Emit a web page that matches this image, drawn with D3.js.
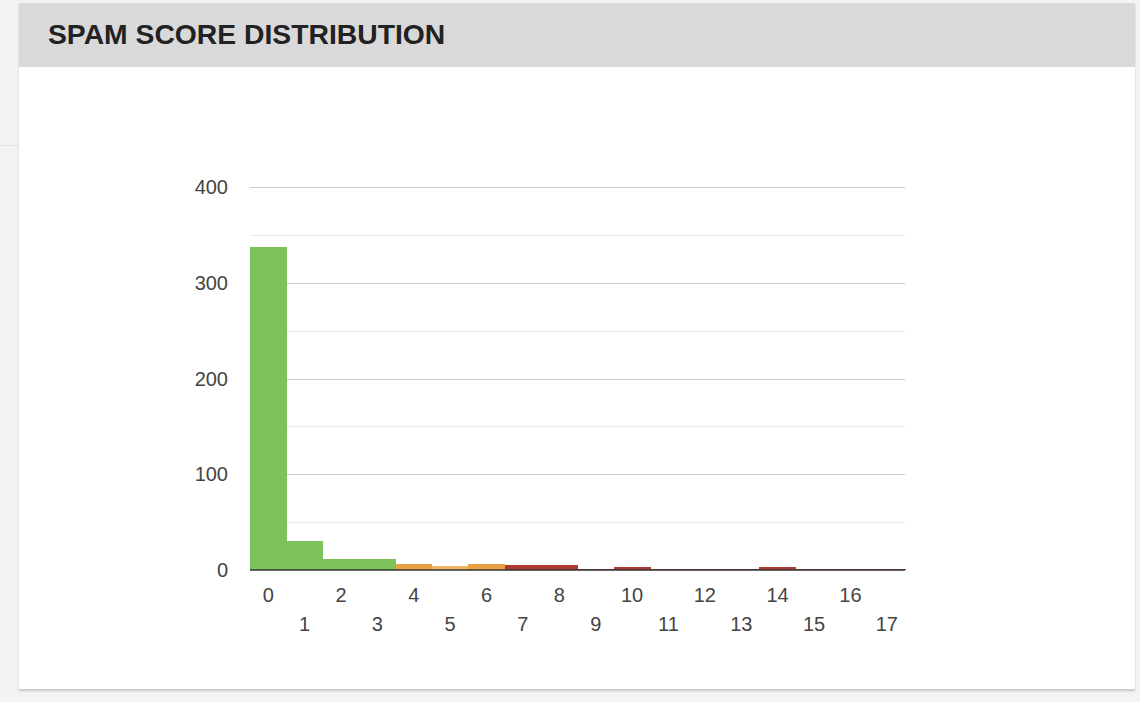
<!DOCTYPE html>
<html>
  <head>
    <meta charset="utf-8" />
    <title>Spam Score Distribution</title>
    <script src="https://d3js.org/d3.v7.min.js"></script>
    <style>

      body {
        margin: 0;
        background: #f3f3f3;
        font-family: "Liberation Sans", Arial, sans-serif;
      }

      #side-line {
        position: absolute;
        left: 0;
        top: 145px;
        width: 19px;
        height: 1px;
        background: #e4e4e4;
      }

      #card {
        position: absolute;
        left: 19px;
        top: 3px;
        width: 1116px;
        height: 686px;
        background: #fff;
        box-shadow: 0 2px 2px rgba(0, 0, 0, 0.18);
      }

      #card h2 {
        margin: 0;
        height: 64px;
        background: #d9d9d9;
        color: #222;
        font-size: 28.3px;
        font-weight: bold;
        line-height: 63px;
        padding-left: 29px;
      }

      #chart {
        position: absolute;
        left: 0;
        top: 0;
      }

    </style>
  </head>
  <body>

    <div id="side-line"></div>
    <div id="card">
      <h2>SPAM SCORE DISTRIBUTION</h2>
    </div>

    <svg id="chart"></svg>

    <script>

      // spam score bins 0..17 and message counts
      var scores = d3.range(0, 18);
      var counts = [337, 30, 11, 11, 6, 4, 6, 5, 5, 1, 3, 1, 1, 1, 3, 1, 1, 1];
      var yTicks = [0, 100, 200, 300, 400];
      var minorTicks = [50, 150, 250, 350];

      var width = 1140;
      var height = 702;
      var margin = { top: 187, right: 235, bottom: 132, left: 250 };

      var svg = d3.select("#chart")
        .attr("width", width)
        .attr("height", height);

      var x = d3.scaleBand()
        .domain(scores)
        .range([margin.left, width - margin.right])
        .padding(0);

      var y = d3.scaleLinear()
        .domain([0, 400])
        .range([height - margin.bottom, margin.top]);

      function barColor(s) {
        if (s < 4) return "#7dc35c";
        if (s === 5) return "#f0b563";
        if (s < 7) return "#e9a146";
        return "#ae3a34";
      }

      // grid lines
      svg.append("g")
        .selectAll("line.minor")
        .data(minorTicks)
        .join("line")
        .attr("x1", margin.left)
        .attr("x2", width - margin.right)
        .attr("y1", function(d) { return Math.round(y(d)) + 0.5; })
        .attr("y2", function(d) { return Math.round(y(d)) + 0.5; })
        .attr("stroke", "#ebebeb");

      svg.append("g")
        .selectAll("line.major")
        .data(yTicks.slice(1))
        .join("line")
        .attr("x1", margin.left)
        .attr("x2", width - margin.right)
        .attr("y1", function(d) { return Math.round(y(d)) + 0.5; })
        .attr("y2", function(d) { return Math.round(y(d)) + 0.5; })
        .attr("stroke", "#cccccc");

      // bars
      svg.append("g")
        .attr("shape-rendering", "crispEdges")
        .selectAll("rect")
        .data(counts)
        .join("rect")
        .attr("x", function(d, i) { return x(scores[i]); })
        .attr("width", x.bandwidth() + 0.5)
        .attr("y", function(d) { return y(d); })
        .attr("height", function(d) { return y(0) - y(d); })
        .attr("fill", function(d, i) { return barColor(scores[i]); });

      // baseline
      svg.append("line")
        .attr("x1", margin.left)
        .attr("x2", width - margin.right)
        .attr("y1", y(0))
        .attr("y2", y(0))
        .attr("stroke", "#333")
        .attr("stroke-width", 1.5);

      // y axis labels
      svg.append("g")
        .selectAll("text")
        .data(yTicks)
        .join("text")
        .attr("x", 228)
        .attr("y", function(d) { return y(d); })
        .attr("dy", "0.36em")
        .attr("text-anchor", "end")
        .attr("font-size", 20)
        .attr("fill", "#444")
        .text(function(d) { return d; });

      // x axis labels, staggered on two rows
      svg.append("g")
        .selectAll("text")
        .data(scores)
        .join("text")
        .attr("x", function(d) { return x(d) + x.bandwidth() / 2; })
        .attr("y", function(d) { return d % 2 === 0 ? 602 : 631; })
        .attr("text-anchor", "middle")
        .attr("font-size", 20)
        .attr("fill", "#444")
        .text(function(d) { return d; });

    </script>
  </body>
</html>
